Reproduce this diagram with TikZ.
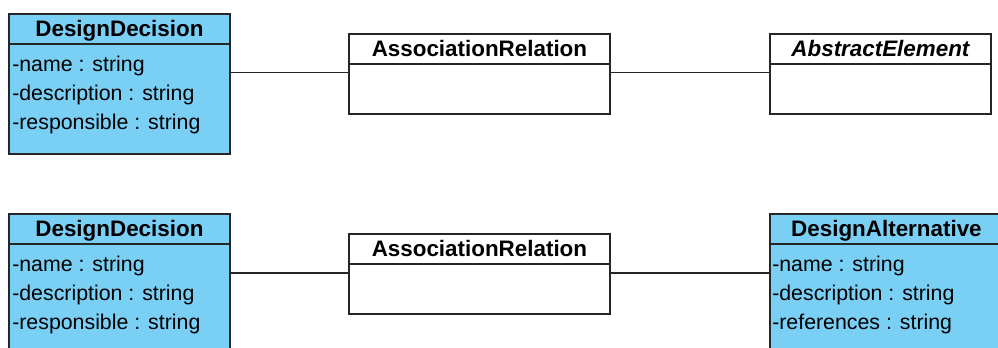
\documentclass[tikz,border=0pt]{standalone}
\usepackage{fontspec}
\setmainfont{Liberation Sans}

\definecolor{classblue}{RGB}{122,207,245}
\newcommand{\px}{0.75pt}

\tikzset{
  classbox/.style={draw=black!85, line width=1.4pt, anchor=north west, inner sep=0pt},
  classhead/.style={draw=black!85, line width=1.4pt, anchor=north west, inner sep=0pt,
    minimum height=30*\px, text height=12pt, text depth=0pt,
    font=\fontsize{16.8}{18}\selectfont\bfseries},
  attr/.style={anchor=base west, inner sep=0pt, font=\fontsize{16}{18}\selectfont},
  assoc/.style={draw=black!85, line width=1.1pt},
}

\begin{document}
\begin{tikzpicture}[x=0.75pt, y=-0.75pt]
  \useasboundingbox (0,0) rectangle (998,347);
  \clip (0,0) rectangle (998,347);
  %%%%%%%%%%%%%%%%%%%%%%%%%%%%%%%% upper row
  \node[classbox, fill=classblue, minimum width=221*\px, minimum height=140*\px] (dd1) at (8,13) {};
  \node[classhead, minimum width=221*\px] (dd1h) at (dd1.north west) {DesignDecision};
  \node[attr] (dd1a) at (12,71) {-name : string};
  \node[attr] (dd1b) at (12,100) {-description : string};
  \node[attr] (dd1c) at (12,129.5) {-responsible : string};

  \node[classbox, fill=white, minimum width=261*\px, minimum height=80*\px] (ar1) at (348,33) {};
  \node[classhead, minimum width=261*\px] (ar1h) at (ar1.north west) {AssociationRelation};

  \node[classbox, fill=white, minimum width=221*\px, minimum height=80*\px] (ae) at (769,33) {};
  \node[classhead, minimum width=221*\px, font=\fontsize{16.8}{18}\selectfont\bfseries\itshape] (aeh) at (ae.north west) {AbstractElement};

  \coordinate (l1) at (0,72.5);
  \draw[assoc] (dd1.east |- l1) -- (ar1.west |- l1);
  \draw[assoc] (ar1.east |- l1) -- (ae.west |- l1);
  %%%%%%%%%%%%%%%%%%%%%%%%%%%%%%%% lower row
  \node[classbox, fill=classblue, minimum width=221*\px, minimum height=140*\px] (dd2) at (8,213) {};
  \node[classhead, minimum width=221*\px] (dd2h) at (dd2.north west) {DesignDecision};
  \node[attr] (dd2a) at (12,271) {-name : string};
  \node[attr] (dd2b) at (12,300) {-description : string};
  \node[attr] (dd2c) at (12,329.5) {-responsible : string};

  \node[classbox, fill=white, minimum width=261*\px, minimum height=80*\px] (ar2) at (348,233) {};
  \node[classhead, minimum width=261*\px] (ar2h) at (ar2.north west) {AssociationRelation};

  \node[classbox, fill=classblue, minimum width=233*\px, minimum height=140*\px] (da) at (769,213) {};
  \node[classhead, minimum width=233*\px] (dah) at (da.north west) {DesignAlternative};
  \node[attr] (daa) at (772,271) {-name : string};
  \node[attr] (dab) at (772,300) {-description : string};
  \node[attr] (dac) at (772,329.5) {-references : string};

  \coordinate (l2) at (0,273);
  \draw[assoc] (dd2.east |- l2) -- (ar2.west |- l2);
  \draw[assoc] (ar2.east |- l2) -- (da.west |- l2);
\end{tikzpicture}
\end{document}
